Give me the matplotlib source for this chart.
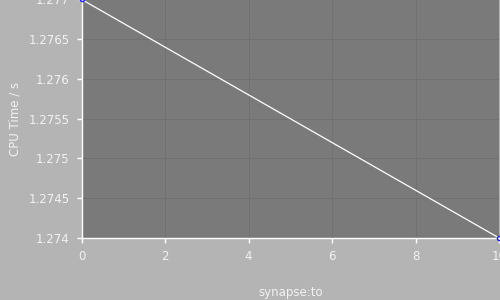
import matplotlib
matplotlib.use("Agg")
import matplotlib.pyplot as plt

# synapse:to sweep vs CPU time
synapse_to = [0, 10]
cpu_time = [1.277, 1.274]
y_ticks = [1.274, 1.2745, 1.275, 1.2755, 1.276, 1.2765, 1.277]
y_labels = ["1.274", "1.2745", "1.275", "1.2755", "1.276", "1.2765", "1.277"]
x_ticks = [0, 2, 4, 6, 8, 10]

FIG_BG, AX_BG, GRID, FG = "#b4b4b4", "#7a7a7a", "#717171", "#f2f2f2"

fig = plt.figure(figsize=(5, 3), dpi=100, facecolor=FIG_BG)
ax = fig.add_axes([0.163, 0.207, 0.835, 0.795], facecolor=AX_BG)

ax.plot(synapse_to, cpu_time, color="white", lw=0.9, zorder=3)
ax.plot(synapse_to, cpu_time, "o", ms=3.0, mfc="none", mec="#1a1aff",
        mew=1.0, zorder=4, clip_on=False)

ax.set_xlim(0, 10)
ax.set_ylim(1.274, 1.277)
ax.set_xticks(x_ticks)
ax.set_yticks(y_ticks)
ax.set_yticklabels(y_labels)
ax.grid(True, color=GRID, lw=0.7)
ax.set_axisbelow(True)

for side in ("top", "right"):
    ax.spines[side].set_visible(False)
for side in ("left", "bottom"):
    ax.spines[side].set_color("white")
    ax.spines[side].set_linewidth(1.0)
ax.tick_params(colors="white", labelcolor=FG, labelsize=8.5, length=3.6,
               width=1.0, pad=5)

ax.set_xlabel("synapse:to", color=FG, fontsize=8.5)
ax.xaxis.set_label_coords(0.5, -0.2)
ax.set_ylabel("CPU Time / s", color=FG, fontsize=8.5, labelpad=5)

fig.savefig("out.png", dpi=100, facecolor=FIG_BG)
